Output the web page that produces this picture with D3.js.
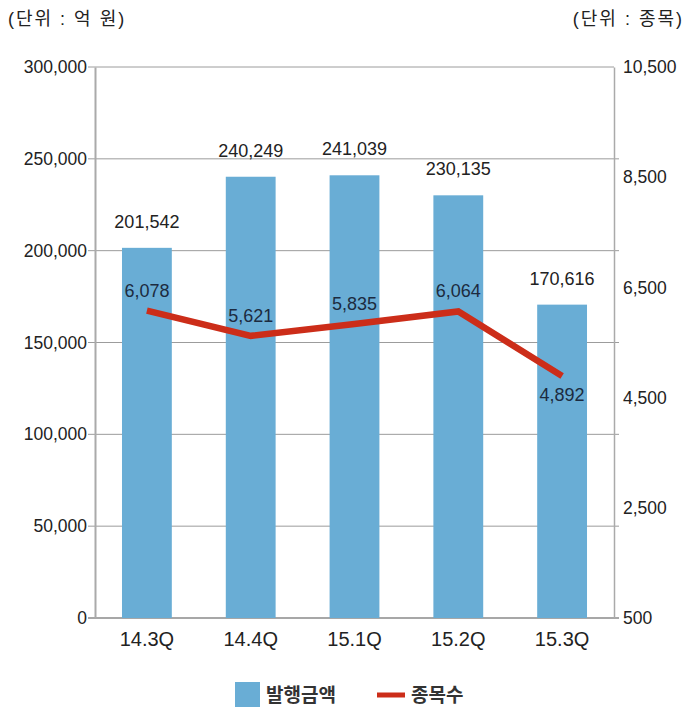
<!DOCTYPE html>
<html>
<head>
<meta charset="utf-8">
<script src="https://cdn.jsdelivr.net/npm/d3@7"></script>
<style>
  body { margin: 0; background: #fff; }
  text { font-family: "Liberation Sans", "Noto Sans CJK KR", sans-serif; }
</style>
</head>
<body>
<svg width="698" height="713"></svg>
<script>
// data
const quarters = ['14.3Q', '14.4Q', '15.1Q', '15.2Q', '15.3Q'];
const amounts = [201542, 240249, 241039, 230135, 170616];
const counts = [6078, 5621, 5835, 6064, 4892];
const leftTicks = [0, 50000, 100000, 150000, 200000, 250000, 300000];
const rightTicks = [500, 2500, 4500, 6500, 8500, 10500];

const svg = d3.select('svg');
const plotLeft = 95, plotRight = 614, plotTop = 67, plotBottom = 618;
const fmt = d3.format(',');
const barColor = '#69add5', lineColor = '#cc2d19';

const x = d3.scaleBand().domain(quarters).range([plotLeft, plotRight]).paddingInner(0.52).paddingOuter(0.26);
const yL = d3.scaleLinear().domain([0, 300000]).range([plotBottom, plotTop]);
const yR = d3.scaleLinear().domain([500, 10500]).range([plotBottom, plotTop]);

// grid lines (they run a little past both axes)
svg.append('g').selectAll('line')
    .data(leftTicks)
    .enter().append('line')
    .attr('x1', plotLeft - 7).attr('x2', d => d === 300000 ? plotRight : plotRight + 5)
    .attr('y1', d => yL(d)).attr('y2', d => yL(d))
    .attr('stroke', d => d === 0 ? '#8a8a8a' : '#9c9c9c').attr('stroke-width', d => d === 0 ? 1.5 : 1);

// bars
svg.append('g').selectAll('rect')
    .data(amounts)
    .enter().append('rect')
    .attr('x', (d, i) => x(quarters[i]))
    .attr('y', d => yL(d))
    .attr('width', x.bandwidth())
    .attr('height', d => plotBottom - yL(d))
    .attr('fill', barColor);

// left axis
const axL = svg.append('g')
    .attr('transform', 'translate(' + plotLeft + ',0)')
    .call(d3.axisLeft(yL).tickValues(leftTicks).tickFormat(fmt).tickSize(0).tickPadding(8));
axL.select('.domain').attr('stroke', '#aaa').attr('stroke-width', 2);
axL.selectAll('text').attr('font-size', 17.5).attr('fill', '#222');

// right axis
const axR = svg.append('g')
    .attr('transform', 'translate(' + plotRight + ',0)')
    .call(d3.axisRight(yR).tickValues(rightTicks).tickFormat(fmt).tickSize(0).tickPadding(9));
axR.select('.domain').attr('stroke', '#aaa').attr('stroke-width', 1.5);
axR.selectAll('text').attr('font-size', 17.5).attr('fill', '#222');

// bottom axis labels
const axB = svg.append('g')
    .attr('transform', 'translate(0,' + plotBottom + ')')
    .call(d3.axisBottom(x).tickSize(0).tickPadding(14));
axB.select('.domain').remove();
axB.selectAll('text').attr('font-size', 20).attr('fill', '#222');

// bar labels
svg.append('g').selectAll('text')
    .data(amounts)
    .enter().append('text')
    .attr('x', (d, i) => x(quarters[i]) + x.bandwidth() / 2)
    .attr('y', d => yL(d) - 20)
    .attr('text-anchor', 'middle')
    .attr('font-size', 18)
    .attr('fill', '#222')
    .text(d => fmt(d));

// line
const line = d3.line()
    .x((d, i) => x(quarters[i]) + x.bandwidth() / 2)
    .y(d => yR(d));
svg.append('path')
    .datum(counts)
    .attr('d', line)
    .attr('fill', 'none')
    .attr('stroke', lineColor)
    .attr('stroke-width', 6.5);

svg.append('g').selectAll('text')
    .data(counts)
    .enter().append('text')
    .attr('x', (d, i) => x(quarters[i]) + x.bandwidth() / 2)
    .attr('y', (d, i) => i === counts.length - 1 ? yR(d) + 25 : yR(d) - 14)
    .attr('text-anchor', 'middle')
    .attr('font-size', 18)
    .attr('fill', '#1c2b40')
    .text(d => fmt(d));

// unit labels
svg.append('text').attr('x', 8).attr('y', 25).attr('font-size', 18).attr('letter-spacing', 2).attr('fill', '#222')
    .text('(단위 : 억 원)');
svg.append('text').attr('x', 684).attr('y', 25).attr('text-anchor', 'end').attr('font-size', 18).attr('letter-spacing', 2).attr('fill', '#222')
    .text('(단위 : 종목)');

// legend
const lg = svg.append('g');
lg.append('rect').attr('x', 235).attr('y', 682).attr('width', 25).attr('height', 25).attr('fill', barColor);
lg.append('text').attr('x', 266).attr('y', 702).attr('font-size', 19).attr('font-weight', 'bold').attr('fill', '#333').text('발행금액');
lg.append('line').attr('x1', 377).attr('x2', 405).attr('y1', 695).attr('y2', 695)
    .attr('stroke', lineColor).attr('stroke-width', 5);
lg.append('text').attr('x', 411).attr('y', 702).attr('font-size', 19).attr('font-weight', 'bold').attr('fill', '#333').text('종목수');
</script>
</body>
</html>
